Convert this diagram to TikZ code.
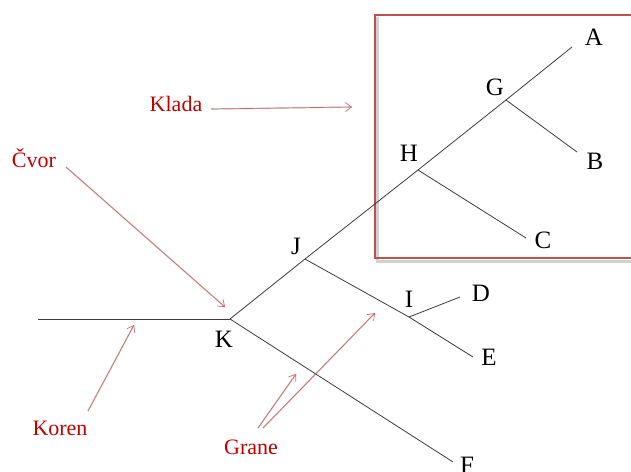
\documentclass[tikz,border=0pt]{standalone}
\usepackage{fontspec}
\setmainfont{Liberation Serif}
\usetikzlibrary{arrows.meta}
\definecolor{boxred}{RGB}{192,80,77}
\definecolor{txtred}{RGB}{192,0,0}
\definecolor{branch}{RGB}{60,60,60}
\tikzset{
  branchline/.style={draw=branch, line width=0.8pt},
  lbl/.style={font=\fontsize{25}{25}\selectfont, text=black, inner sep=0pt},
  rtxt/.style={font=\fontsize{22}{22}\selectfont, text=txtred, inner sep=0pt},
  pointer/.style={draw=boxred!85, line width=0.7pt, -{Straight Barb[length=6pt,width=9pt]}},
  pshadow/.style={draw=black, opacity=0.15, line width=1.6pt},
  cladebox/.style={draw=boxred, line width=2.6pt}
}
\begin{document}
\begin{tikzpicture}[x=1pt,y=-1pt]
\useasboundingbox (0,0) rectangle (631,471);
% clade box with shadow
\draw[draw=black, opacity=0.18, line width=3pt] (377,17) -- (377,261) -- (640,261);
\draw[cladebox] (375,15) rectangle (640,258);
% tree coordinates
\coordinate (root) at (38,319);
\coordinate (k) at (230,319);
\coordinate (j) at (305,259);
\coordinate (h) at (418,170);
\coordinate (g) at (506,100);
\coordinate (a) at (572,47);
\coordinate (b) at (577,152);
\coordinate (c) at (526,238);
\coordinate (i) at (409,317);
\coordinate (d) at (460,297);
\coordinate (e) at (473,357);
\coordinate (f) at (453,462);
% branches
\draw[branchline] (root) -- (k);
\draw[branchline] (k) -- (j) -- (h) -- (g) -- (a);
\draw[branchline] (g) -- (b);
\draw[branchline] (h) -- (c);
\draw[branchline] (j) -- (i) -- (e);
\draw[branchline] (i) -- (d);
\draw[branchline] (k) -- (f);
% labels
\node[lbl] (la) at (594,37) {A};
\node[lbl] (lg) at (495,87) {G};
\node[lbl] (lb) at (595,161) {B};
\node[lbl] (lh) at (409,153) {H};
\node[lbl] (lc) at (543,240) {C};
\node[lbl] (lj) at (296,246) {J};
\node[lbl] (ld) at (481,293) {D};
\node[lbl] (li) at (409,299) {I};
\node[lbl] (le) at (489,357) {E};
\node[lbl] (lk) at (224,339) {K};
\node[lbl] (lf) at (467,465) {F};
% red annotations
\node[rtxt] (klada) at (176,104) {Klada};
\node[rtxt] (cvor) at (34,158) {Čvor};
\node[rtxt] (koren) at (60,428) {Koren};
\node[rtxt] (grane) at (251,447) {Grane};
\coordinate (kladaS) at (211,109);
\coordinate (kladaT) at (352,107);
\coordinate (cvorS) at (66,167);
\coordinate (cvorT) at (225,307);
\coordinate (korenS) at (88,411);
\coordinate (korenT) at (134,325);
\coordinate (graneS1) at (258,428);
\coordinate (graneT1) at (296,374);
\coordinate (graneS2) at (263,428);
\coordinate (graneT2) at (375,313);
\begin{scope}[shift={(1.2,1.5)}]
\draw[pshadow] (kladaS) -- (kladaT);
\draw[pshadow] (cvorS) -- (cvorT);
\draw[pshadow] (korenS) -- (korenT);
\draw[pshadow] (graneS1) -- (graneT1);
\draw[pshadow] (graneS2) -- (graneT2);
\end{scope}
\draw[pointer] (kladaS) -- (kladaT);
\draw[pointer] (cvorS) -- (cvorT);
\draw[pointer] (korenS) -- (korenT);
\draw[pointer] (graneS1) -- (graneT1);
\draw[pointer] (graneS2) -- (graneT2);
\end{tikzpicture}
\end{document}
